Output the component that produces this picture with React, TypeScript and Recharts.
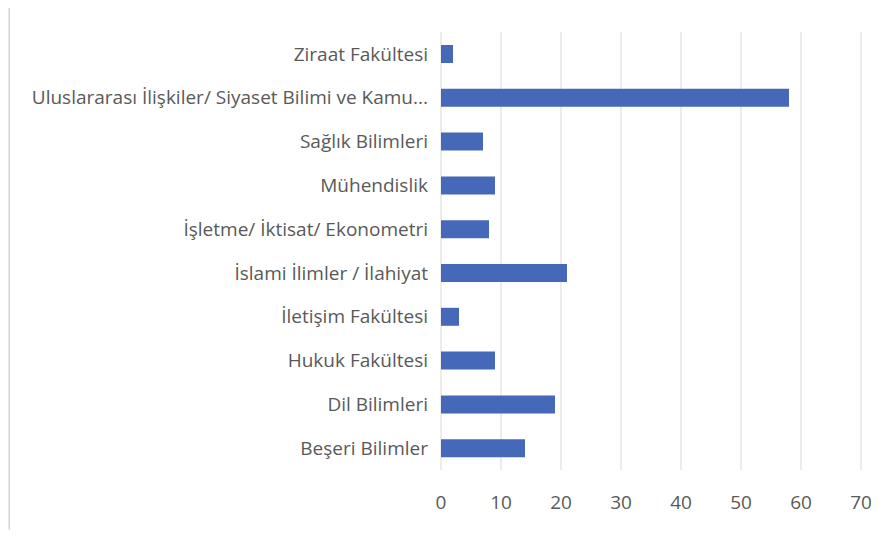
import React from "react";
import { BarChart, Bar, XAxis, YAxis, CartesianGrid } from "recharts";

const categories = [
  "Ziraat Fakültesi",
  "Uluslararası İlişkiler/ Siyaset Bilimi ve Kamu...",
  "Sağlık Bilimleri",
  "Mühendislik",
  "İşletme/ İktisat/ Ekonometri",
  "İslami İlimler / İlahiyat",
  "İletişim Fakültesi",
  "Hukuk Fakültesi",
  "Dil Bilimleri",
  "Beşeri Bilimler",
];
const values = [2, 58, 7, 9, 8, 21, 3, 9, 19, 14];
const xTicks = [0, 10, 20, 30, 40, 50, 60, 70];

const data = categories.map((name, i) => ({ name, value: values[i] }));

const FONT = "'Open Sans', 'Noto Sans', sans-serif";

export default function App() {
  return (
    <div
      style={{
        margin: -8,
        width: 879,
        height: 538,
        background: "#ebebeb",
        position: "relative",
        overflow: "hidden",
      }}
    >
      <div
        style={{
          position: "absolute",
          left: 9,
          top: 4,
          width: 880,
          height: 527,
          background: "#ffffff",
          border: "1px solid #d6d6d6",
        }}
      />
      <div style={{ position: "absolute", left: 0, top: 0 }}>
        <BarChart
          width={879}
          height={538}
          data={data}
          layout="vertical"
          margin={{ top: 32, right: 18, bottom: 28, left: 8 }}
          barCategoryGap={26}
        >
          <CartesianGrid horizontal={false} vertical={true} stroke="#d9d9d9" strokeWidth={1} />
          <XAxis
            type="number"
            domain={[0, 70]}
            ticks={xTicks}
            axisLine={false}
            tickLine={false}
            tickMargin={20}
            height={40}
            tick={{ fill: "#595959", fontSize: 19, fontFamily: FONT }}
          />
          <YAxis
            type="category"
            dataKey="name"
            width={433}
            axisLine={false}
            tickLine={false}
            tickMargin={7}
            interval={0}
            tick={{ fill: "#595959", fontSize: 19, fontFamily: FONT }}
          />
          <Bar dataKey="value" fill="#4569b8" barSize={18} isAnimationActive={false} />
        </BarChart>
      </div>
    </div>
  );
}
